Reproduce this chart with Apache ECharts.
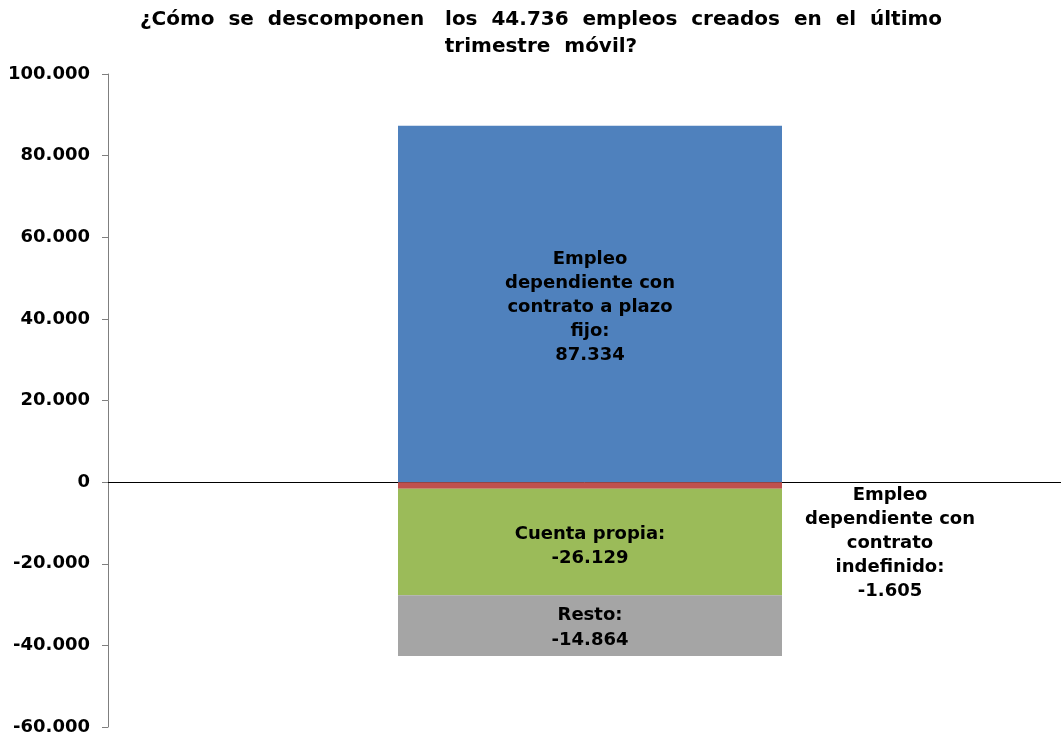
<!DOCTYPE html>
<html>
<head>
<meta charset="utf-8">
<script src="https://cdn.jsdelivr.net/npm/echarts@6/dist/echarts.min.js"></script>
<style>
  html, body { margin: 0; padding: 0; background: #fff; }
  #chart { width: 1061px; height: 742px; }
</style>
</head>
<body>
<div id="chart"></div>
<script>
var categories = ['Empleos'];
var plazoFijo = [87334];
var indefinido = [-1605];
var cuentaPropia = [-26129];
var resto = [-14864];
var yTicks = [-60000, -40000, -20000, 0, 20000, 40000, 60000, 80000, 100000];

function miles(v) {
    var s = Math.abs(v).toString().replace(/\B(?=(\d{3})+(?!\d))/g, '.');
    return (v < 0 ? '-' : '') + s;
}

var myChart = echarts.init(document.getElementById('chart'));
var font = 'DejaVu Sans, Liberation Sans, Arial, sans-serif';

var option = {
    backgroundColor: '#ffffff',
    animation: false,
    title: {
        text: '¿Cómo  se  descomponen   los  44.736  empleos  creados  en  el  último\ntrimestre  móvil?',
        left: 541,
        top: 6,
        padding: 0,
        textAlign: 'center',
        textStyle: {
            fontFamily: font,
            fontWeight: 'bold',
            fontSize: 20,
            lineHeight: 27,
            color: '#000'
        }
    },
    grid: { left: 108, right: 0, top: 74, bottom: 15 },
    xAxis: {
        type: 'category',
        data: categories,
        axisLine: { onZero: true, lineStyle: { color: '#000', width: 1 } },
        axisTick: { show: false },
        axisLabel: { show: false }
    },
    yAxis: {
        type: 'value',
        min: yTicks[0],
        max: yTicks[yTicks.length - 1],
        interval: 20000,
        splitLine: { show: false },
        axisLine: { show: true, lineStyle: { color: '#7f7f7f' } },
        axisTick: { show: true, length: 6, lineStyle: { color: '#7f7f7f' } },
        axisLabel: {
            formatter: miles,
            margin: 18,
            fontFamily: font,
            fontWeight: 'bold',
            fontSize: 18,
            color: '#000'
        }
    },
    series: [{
        // empty slot, only nudges the stacked bar a little to the right
        name: 'espacio',
        type: 'bar',
        stack: 'hueco',
        barWidth: 11,
        barGap: 0,
        data: ['-'],
        silent: true
    }, {
        name: 'Empleo dependiente con contrato a plazo fijo',
        type: 'bar',
        stack: 'total',
        barWidth: 384,
        barGap: 0,
        data: plazoFijo,
        itemStyle: { color: '#4f81bd' },
        label: {
            show: true,
            position: 'inside',
            offset: [0, 3],
            formatter: function (p) { return 'Empleo\ndependiente con\ncontrato a plazo\nfijo:\n' + miles(p.value); },
            fontFamily: font, fontWeight: 'bold', fontSize: 18, lineHeight: 24, color: '#000'
        }
    }, {
        name: 'Empleo dependiente con contrato indefinido',
        type: 'bar',
        stack: 'total',
        data: indefinido,
        itemStyle: { color: '#c0504d' },
        label: {
            show: true,
            position: 'right',
            distance: 60,
            align: 'center',
            offset: [48, 58],
            formatter: function (p) { return 'Empleo\ndependiente con\ncontrato\nindefinido:\n' + miles(p.value); },
            fontFamily: font, fontWeight: 'bold', fontSize: 18, lineHeight: 24, color: '#000'
        }
    }, {
        name: 'Cuenta propia',
        type: 'bar',
        stack: 'total',
        data: cuentaPropia,
        itemStyle: { color: '#9bbb59' },
        label: {
            show: true,
            position: 'inside',
            offset: [0, 4],
            formatter: function (p) { return 'Cuenta propia:\n' + miles(p.value); },
            fontFamily: font, fontWeight: 'bold', fontSize: 18, lineHeight: 24, color: '#000'
        }
    }, {
        name: 'Resto',
        type: 'bar',
        stack: 'total',
        data: resto,
        itemStyle: { color: '#a5a5a5' },
        label: {
            show: true,
            position: 'inside',
            offset: [0, 2],
            formatter: function (p) { return 'Resto:\n' + miles(p.value); },
            fontFamily: font, fontWeight: 'bold', fontSize: 18, lineHeight: 25, color: '#000'
        }
    }]
};
myChart.setOption(option);
</script>
</body>
</html>
